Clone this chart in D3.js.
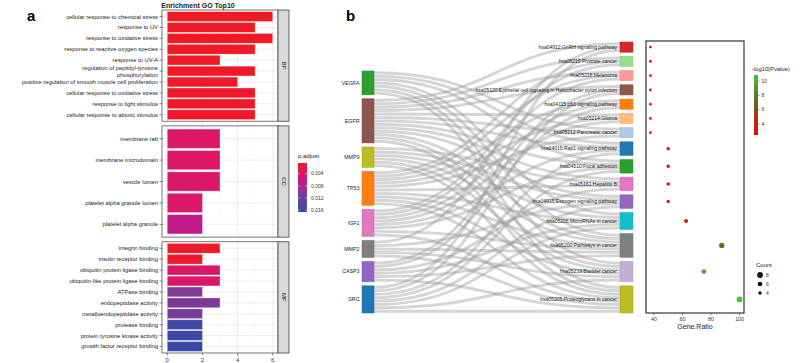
<!DOCTYPE html>
<html><head><meta charset="utf-8">
<script src="https://cdn.jsdelivr.net/npm/d3@7/dist/d3.min.js"></script>
<style>body{margin:0;background:#fff}svg{display:block;font-family:"Liberation Sans",Arial,sans-serif}</style>
</head><body><svg id="c" width="800" height="363"></svg>
<script>
// ---------- GO data (panel a) ----------
const goTerms = [
 "cellular response to chemical stress","response to UV","response to oxidative stress",
 "response to reactive oxygen species","response to UV-A","regulation of peptidyl-tyrosine\nphosphorylation",
 "positive regulation of smooth muscle cell proliferation","cellular response to oxidative stress",
 "response to light stimulus","cellular response to abiotic stimulus",
 "membrane raft","membrane microdomain","vesicle lumen","platelet alpha granule lumen","platelet alpha granule",
 "integrin binding","insulin receptor binding","ubiquitin protein ligase binding","ubiquitin-like protein ligase binding",
 "ATPase binding","endopeptidase activity","metalloendopeptidase activity","protease binding",
 "protein tyrosine kinase activity","growth factor receptor binding"];
const goCounts = [6,5,6,5,3,5,4,5,5,5, 3,3,3,2,2, 3,2,3,3,2,3,2,2,2,2];
const goPadj = [0.0006,0.0006,0.0006,0.0007,0.0007,0.0007,0.0008,0.0008,0.0008,0.0008,
 0.0040,0.0040,0.0041,0.0042,0.0068,
 0.0009,0.0010,0.0042,0.0043,0.0102,0.0104,0.0112,0.0155,0.0158,0.0160];
const goOntology = ["BP","BP","BP","BP","BP","BP","BP","BP","BP","BP","CC","CC","CC","CC","CC",
 "MF","MF","MF","MF","MF","MF","MF","MF","MF","MF"];
const facets = ["BP","CC","MF"];
const goXTicks = [0,2,4,6];
const padjTicks = [0.004,0.008,0.012,0.016];
const padjLimits = [0.0005,0.0166];

// ---------- KEGG data (panel b) ----------
const genes = ["VEGFA","EGFR","MMP9","TP53","IGF1","MMP2","CASP3","SRC"];
const pathways = ["hsa04912:GnRH signaling pathway","hsa05215:Prostate cancer","hsa05218:Melanoma",
 "hsa05120:Epithelial cell signaling in Helicobacter pylori infection","hsa04115:p53 signaling pathway",
 "hsa05214:Glioma","hsa05212:Pancreatic cancer","hsa04015:Rap1 signaling pathway","hsa04510:Focal adhesion",
 "hsa05161:Hepatitis B","hsa04915:Estrogen signaling pathway","hsa05206:MicroRNAs in cancer",
 "hsa05200:Pathways in cancer","hsa05219:Bladder cancer","hsa05205:Proteoglycans in cancer"];
const pathwayGenes = [
 ["EGFR","MMP2","SRC"],["EGFR","TP53","IGF1"],["EGFR","TP53","IGF1"],["EGFR","CASP3","SRC"],
 ["TP53","IGF1","CASP3"],["EGFR","TP53","IGF1"],["VEGFA","EGFR","TP53"],["VEGFA","EGFR","IGF1","SRC"],
 ["VEGFA","EGFR","IGF1","SRC"],["EGFR","MMP9","TP53","CASP3"],["EGFR","MMP9","MMP2","SRC"],
 ["VEGFA","MMP9","TP53","CASP3","SRC"],["VEGFA","EGFR","MMP9","TP53","IGF1","MMP2","CASP3"],
 ["VEGFA","EGFR","MMP9","TP53","MMP2","SRC"],["VEGFA","EGFR","MMP9","TP53","IGF1","MMP2","CASP3","SRC"]];
const geneRatio = [37.5,37.5,37.5,37.5,37.5,37.5,37.5,50,50,50,50,62.5,87.5,75,100];
const negLog10P = [2.45,2.7,2.8,2.9,3.0,3.1,3.2,3.3,3.3,3.4,3.5,4.0,7.2,9.6,10.85];
const ratioTicks = [40,60,80,100];
const pTicks = [10,8,6,4];
const countBreaks = [8,6,4];

// ---------- styles ----------
const genePalette = ["#2ca02c","#8c564b","#bcbd22","#ff7f0e","#e377c2","#7f7f7f","#9467bd","#1f77b4"];
const pathPalette = ["#d62728","#98df8a","#ff9896","#8c564b","#ff7f0e","#ffbb78","#aec7e8","#1f77b4",
 "#2ca02c","#e377c2","#9467bd","#17becf","#7f7f7f","#c5b0d5","#bcbd22"];
const padjStops = [0,0.22,0.40,0.62,1];
const padjColors = ["#ef1a24","#dc1866","#bf198b","#7a3a96","#2c4aa8"];

const svg = d3.select("#c");
const txt = "#1a1a1a";
const defs = svg.append("defs");

// ======================= Panel a =======================
svg.append("text").attr("x",27).attr("y",21).attr("font-size",15).attr("font-weight","bold").text("a");
svg.append("text").attr("x",198).attr("y",7.5).attr("text-anchor","middle").attr("font-size",7)
  .attr("font-weight","bold").attr("fill",txt).text("Enrichment GO Top10");

const px0 = 162, px1 = 278, stripW = 11;
const x = d3.scaleLinear().domain([-0.3,6.3]).range([px0,px1]);
const fBand = d3.scaleBand().domain(facets).range([10,353]).paddingInner(0.04);
const fill = d3.scaleLinear()
  .domain(padjStops.map(t => padjLimits[0]+t*(padjLimits[1]-padjLimits[0])))
  .range(padjColors).interpolate(d3.interpolateLab).clamp(true);
const idx = d3.range(goTerms.length);

facets.forEach(f => {
  const top = fBand(f), h = fBand.bandwidth();
  const ids = idx.filter(i => goOntology[i] === f);
  const y = d3.scalePoint().domain(ids).range([top, top+h]).padding(0.6);
  const g = svg.append("g");
  g.append("rect").attr("x",px0).attr("y",top).attr("width",px1-px0).attr("height",h).attr("fill","#fff");
  [1,3,5].forEach(v => g.append("line").attr("x1",x(v)).attr("x2",x(v)).attr("y1",top).attr("y2",top+h)
    .attr("stroke","#f4f4f4").attr("stroke-width",0.5));
  goXTicks.forEach(v => g.append("line").attr("x1",x(v)).attr("x2",x(v)).attr("y1",top).attr("y2",top+h)
    .attr("stroke","#ebebeb").attr("stroke-width",0.9));
  ids.forEach(i => g.append("line").attr("x1",px0).attr("x2",px1).attr("y1",y(i)).attr("y2",y(i))
    .attr("stroke","#ebebeb").attr("stroke-width",0.9));
  const bh = y.step()*0.9;
  g.selectAll("rect.bar").data(ids).join("rect").attr("class","bar")
    .attr("x",x(0)).attr("y",i => y(i)-bh/2).attr("width",i => x(goCounts[i])-x(0)).attr("height",bh)
    .attr("fill",i => fill(goPadj[i])).attr("stroke","#fff").attr("stroke-opacity",0.45).attr("stroke-width",0.7);
  g.append("rect").attr("x",px0).attr("y",top).attr("width",px1-px0).attr("height",h)
    .attr("fill","none").attr("stroke","#555").attr("stroke-width",0.8);
  g.append("rect").attr("x",px1).attr("y",top).attr("width",stripW).attr("height",h)
    .attr("fill","#d9d9d9").attr("stroke","#444").attr("stroke-width",0.8);
  g.append("text").attr("transform",`translate(${px1+stripW/2-2},${top+h/2}) rotate(90)`)
    .attr("text-anchor","middle").attr("font-size",6).attr("fill",txt).text(f);
  ids.forEach(i => {
    g.append("line").attr("x1",px0-2.5).attr("x2",px0).attr("y1",y(i)).attr("y2",y(i)).attr("stroke","#333").attr("stroke-width",0.6);
    const lines = goTerms[i].split("\n");
    const t = g.append("text").attr("text-anchor","end").attr("font-size",5.8).attr("fill",txt);
    lines.forEach((l,j) => t.append("tspan").attr("x",px0-4)
      .attr("y",y(i)+2 + (j-(lines.length-1)/2)*7).text(l));
  });
});
const axB = fBand("MF")+fBand.bandwidth();
goXTicks.forEach(v => {
  svg.append("line").attr("x1",x(v)).attr("x2",x(v)).attr("y1",axB).attr("y2",axB+2.5).attr("stroke","#333").attr("stroke-width",0.6);
  svg.append("text").attr("x",x(v)).attr("y",axB+8.5).attr("text-anchor","middle").attr("font-size",6).attr("fill","#333").text(v);
});
{
  const lx = 298, ly0 = 163, ly1 = 212, lw = 9;
  const ly = d3.scaleLinear().domain(padjLimits).range([ly0,ly1]);
  const gr = defs.append("linearGradient").attr("id","gp").attr("x1",0).attr("x2",0).attr("y1",0).attr("y2",1);
  d3.range(0,1.0001,0.05).forEach(t => gr.append("stop").attr("offset",t)
    .attr("stop-color",fill(padjLimits[0]+t*(padjLimits[1]-padjLimits[0]))));
  svg.append("text").attr("x",lx).attr("y",158).attr("font-size",6).attr("fill",txt).text("p.adjust");
  svg.append("rect").attr("x",lx).attr("y",ly0).attr("width",lw).attr("height",ly1-ly0).attr("fill","url(#gp)");
  padjTicks.forEach(v => {
    svg.append("line").attr("x1",lx).attr("x2",lx+2).attr("y1",ly(v)).attr("y2",ly(v)).attr("stroke","#fff").attr("stroke-width",0.5);
    svg.append("line").attr("x1",lx+lw-2).attr("x2",lx+lw).attr("y1",ly(v)).attr("y2",ly(v)).attr("stroke","#fff").attr("stroke-width",0.5);
    svg.append("text").attr("x",lx+lw+4).attr("y",ly(v)+1.8).attr("font-size",5).attr("fill","#333").text(v.toFixed(3));
  });
}

// ======================= Panel b =======================
svg.append("text").attr("x",346).attr("y",21).attr("font-size",15).attr("font-weight","bold").text("b");

const links = [];
pathwayGenes.forEach((gs,p) => gs.forEach(gn => links.push({g: genes.indexOf(gn), p})));
const total = links.length;
const gCount = genes.map((_,i) => links.filter(l => l.g===i).length);
const pCount = pathwayGenes.map(a => a.length);

const L = {x:362, w:12, y0:71, y1:313}, R = {x:620, w:13, y0:42, y1:313};
const k = Math.min((L.y1-L.y0-4*(genes.length-1))/total, (R.y1-R.y0-4*(pathways.length-1))/total);
const gapL = (L.y1-L.y0-k*total)/(genes.length-1);
const gapR = (R.y1-R.y0-k*total)/(pathways.length-1);
const gY = [], pY = [];
{ let c=L.y0; gCount.forEach((n,i)=>{gY[i]=c; c+=n*k+gapL;}); }
{ let c=R.y0; pCount.forEach((n,i)=>{pY[i]=c; c+=n*k+gapR;}); }
const gOff = gY.slice(), pOff = pY.slice();
genes.forEach((_,gi) => links.filter(l=>l.g===gi).sort((a,b)=>a.p-b.p).forEach(l => {l.ys = gOff[gi]+k/2; gOff[gi]+=k;}));
pathways.forEach((_,pi) => links.filter(l=>l.p===pi).sort((a,b)=>a.g-b.g).forEach(l => {l.yt = pOff[pi]+k/2; pOff[pi]+=k;}));

const lk = d3.linkHorizontal();
svg.append("g").selectAll("path").data(links).join("path")
  .attr("d", l => lk({source:[L.x+L.w, l.ys], target:[R.x, l.yt]}))
  .attr("fill","none").attr("stroke","#9a9a9a").attr("stroke-opacity",0.42).attr("stroke-width",k*0.85);

svg.append("g").selectAll("rect").data(genes).join("rect")
  .attr("x",L.x).attr("y",(d,i)=>gY[i]).attr("width",L.w).attr("height",(d,i)=>gCount[i]*k)
  .attr("fill",(d,i)=>genePalette[i]).attr("stroke",(d,i)=>d3.color(genePalette[i]).darker(0.4)).attr("stroke-width",0.5);
svg.append("g").selectAll("text").data(genes).join("text")
  .attr("x",L.x-2.5).attr("y",(d,i)=>gY[i]+gCount[i]*k/2+1.8).attr("text-anchor","end")
  .attr("font-size",5.3).attr("fill",txt).text(d=>d);

svg.append("g").selectAll("rect").data(pathways).join("rect")
  .attr("x",R.x).attr("y",(d,i)=>pY[i]).attr("width",R.w).attr("height",(d,i)=>pCount[i]*k)
  .attr("fill",(d,i)=>pathPalette[i]).attr("stroke",(d,i)=>d3.color(pathPalette[i]).darker(0.3)).attr("stroke-width",0.5);
svg.append("g").selectAll("text").data(pathways).join("text")
  .attr("x",R.x-3).attr("y",(d,i)=>pY[i]+pCount[i]*k/2+1.7).attr("text-anchor","end")
  .attr("font-size",5).attr("fill",txt).text(d=>d);

// ---------- dot plot ----------
const D = {x0:646, x1:744, y0:41, y1:313};
const dx = d3.scaleLinear().domain([34.4,103.1]).range([D.x0,D.x1]);
const pExt = d3.extent(negLog10P);
const col = d3.scaleLinear().domain([pExt[0], (pExt[0]+pExt[1])/2, pExt[1]])
  .range(["#ff0000","#6e5a1c","#40c43a"]);
const rScale = d3.scaleSqrt().domain([3,8]).range([1.35,2.9]);
svg.append("rect").attr("x",D.x0).attr("y",D.y0).attr("width",D.x1-D.x0).attr("height",D.y1-D.y0)
  .attr("fill","#fff").attr("stroke","#333").attr("stroke-width",1.2);
svg.append("g").selectAll("circle").data(pathways).join("circle")
  .attr("cx",(d,i)=>dx(geneRatio[i])).attr("cy",(d,i)=>pY[i]+pCount[i]*k/2)
  .attr("r",(d,i)=>rScale(pCount[i])).attr("fill",(d,i)=>col(negLog10P[i]));
ratioTicks.forEach(v => {
  svg.append("line").attr("x1",dx(v)).attr("x2",dx(v)).attr("y1",D.y1).attr("y2",D.y1+2.5).attr("stroke","#333").attr("stroke-width",0.6);
  svg.append("text").attr("x",dx(v)).attr("y",D.y1+8).attr("text-anchor","middle").attr("font-size",5.3).attr("fill","#333").text(v);
});
svg.append("text").attr("x",(D.x0+D.x1)/2).attr("y",D.y1+15.5).attr("text-anchor","middle").attr("font-size",7).attr("fill",txt).text("Gene.Ratio");

{
  const lx = 754, lw = 4, ly0 = 75, ly1 = 135;
  const ly = d3.scaleLinear().domain([pExt[1],pExt[0]]).range([ly0,ly1]);
  const gr = defs.append("linearGradient").attr("id","gc").attr("x1",0).attr("x2",0).attr("y1",0).attr("y2",1);
  d3.range(0,1.0001,0.1).forEach(t => gr.append("stop").attr("offset",t).attr("stop-color",col(pExt[1]-t*(pExt[1]-pExt[0]))));
  svg.append("text").attr("x",752).attr("y",71).attr("font-size",5.8).attr("fill",txt).text("-log10(Pvalue)");
  svg.append("rect").attr("x",lx).attr("y",ly0).attr("width",lw).attr("height",ly1-ly0).attr("fill","url(#gc)");
  pTicks.forEach(v => {
    svg.append("line").attr("x1",lx+lw).attr("x2",lx+lw+1.5).attr("y1",ly(v)).attr("y2",ly(v)).attr("stroke","#333").attr("stroke-width",0.5);
    svg.append("text").attr("x",lx+lw+3.5).attr("y",ly(v)+1.7).attr("font-size",5).attr("fill","#333").text(v);
  });
}
{
  svg.append("text").attr("x",756).attr("y",267).attr("font-size",6).attr("fill",txt).text("Count");
  const sy = d3.scalePoint().domain(countBreaks).range([275,293]);
  countBreaks.forEach(v => {
    svg.append("circle").attr("cx",760).attr("cy",sy(v)).attr("r",rScale(v)).attr("fill","#111");
    svg.append("text").attr("x",766).attr("y",sy(v)+1.7).attr("font-size",5).attr("fill","#333").text(v);
  });
}
</script></body></html>
